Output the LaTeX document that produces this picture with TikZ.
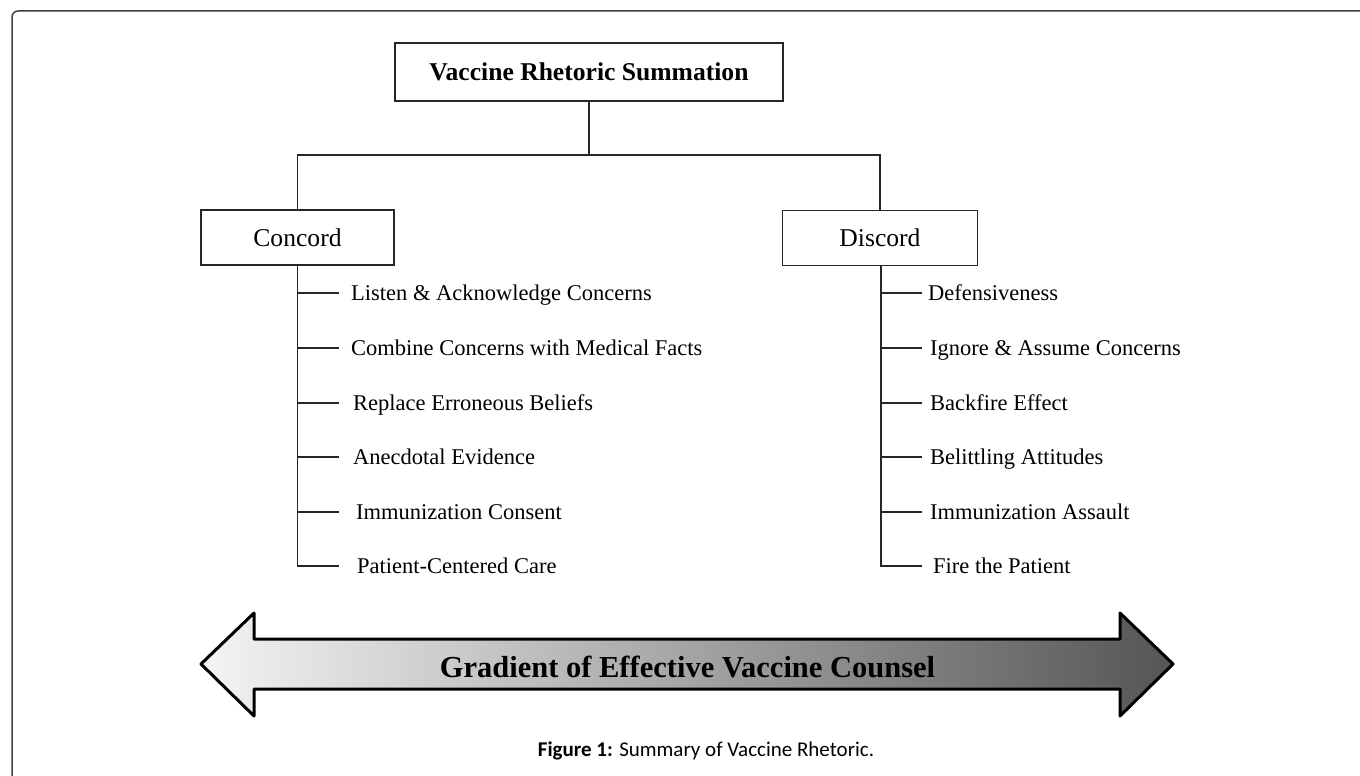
\documentclass[tikz,border=0pt]{standalone}
\usepackage{fontspec}
\setmainfont{Liberation Serif}
\newfontfamily\capfont{Carlito}
\begin{document}
\begin{tikzpicture}[x=1pt,y=-1pt,
  box/.style={draw=black!85, line width=1.2pt, inner sep=0pt},
  conn/.style={draw=black!85, line width=1.5pt},
  item/.style={anchor=west, inner xsep=12pt, inner ysep=0pt, text height=16pt, text depth=1pt,
    font=\fontsize{22.5}{26}\selectfont},
  boxfont/.style={font=\fontsize{25.6}{30}\selectfont}
]
\useasboundingbox (0,0) rectangle (1360,776);
% outer frame
\draw[line width=1.5pt, black!75, rounded corners=6pt] (12,776) -- (12,11) -- (1360,11);

% boxes
\node[box, boxfont, minimum width=388pt, minimum height=58pt] (top) at (589,72) {\textbf{Vaccine Rhetoric Summation}};
\node[box, boxfont, minimum width=193pt, minimum height=55pt] (concord) at (297.5,237.5) {Concord};
\node[box, boxfont, minimum width=195pt, minimum height=55pt] (discord) at (880,238) {Discord};

\coordinate (hub) at (589,155);
\draw[conn] (top.south) -- (hub);
\draw[conn] (concord.north) -- (concord.north |- hub) -- (discord.north |- hub) -- (discord.north);

% concord items
\node[item] (c1) at (339,293) {Listen \& Acknowledge Concerns};
\node[item] (c2) at (339,348) {Combine Concerns with Medical Facts};
\node[item, inner xsep=14pt] (c3) at (339,403) {Replace Erroneous Beliefs};
\node[item, inner xsep=14pt] (c4) at (339,457) {Anecdotal Evidence};
\node[item, inner xsep=17pt] (c5) at (339,512) {Immunization Consent};
\node[item, inner xsep=18pt] (c6) at (339,566) {Patient-Centered Care};

\draw[conn] (concord.south) -- (concord.south |- c6.west) -- (c6.west);
\foreach \n in {c1,c2,c3,c4,c5} {
  \draw[conn] (concord.south |- \n.west) -- (\n.west);
}

% discord items
\coordinate (dstem) at (881,266);
\node[item, inner xsep=6pt] (d1) at (922,293) {Defensiveness};
\node[item, inner xsep=8pt] (d2) at (922,348) {Ignore \& Assume Concerns};
\node[item, inner xsep=8pt] (d3) at (922,403) {Backfire Effect};
\node[item, inner xsep=8pt] (d4) at (922,457) {Belittling Attitudes};
\node[item, inner xsep=8pt] (d5) at (922,512) {Immunization Assault};
\node[item, inner xsep=11pt] (d6) at (922,566) {Fire the Patient};

\draw[conn] (dstem) -- (dstem |- d6.west) -- (d6.west);
\foreach \n in {d1,d2,d3,d4,d5} {
  \draw[conn] (dstem |- \n.west) -- (\n.west);
}

% gradient arrow
\shade[left color={rgb,255:red,244;green,244;blue,244}, right color={rgb,255:red,85;green,85;blue,85}]
  (201,664) -- (254,613) -- (254,639) -- (1120,639) -- (1120,613) -- (1173,664)
  -- (1120,716) -- (1120,689) -- (254,689) -- (254,716) -- cycle;
\draw[line width=3pt, black, line join=round]
  (201,664) -- (254,613) -- (254,639) -- (1120,639) -- (1120,613) -- (1173,664)
  -- (1120,716) -- (1120,689) -- (254,689) -- (254,716) -- cycle;
\node[anchor=base, inner sep=0pt, font=\fontsize{30.5}{34}\selectfont\bfseries] (grad) at (687.5,677) {Gradient of Effective Vaccine Counsel};

% caption
\node[anchor=base, inner sep=0pt] (cap) at (706,756) {\capfont\fontsize{21}{24}\selectfont\textbf{Figure 1:} Summary of Vaccine Rhetoric.};
\end{tikzpicture}
\end{document}
